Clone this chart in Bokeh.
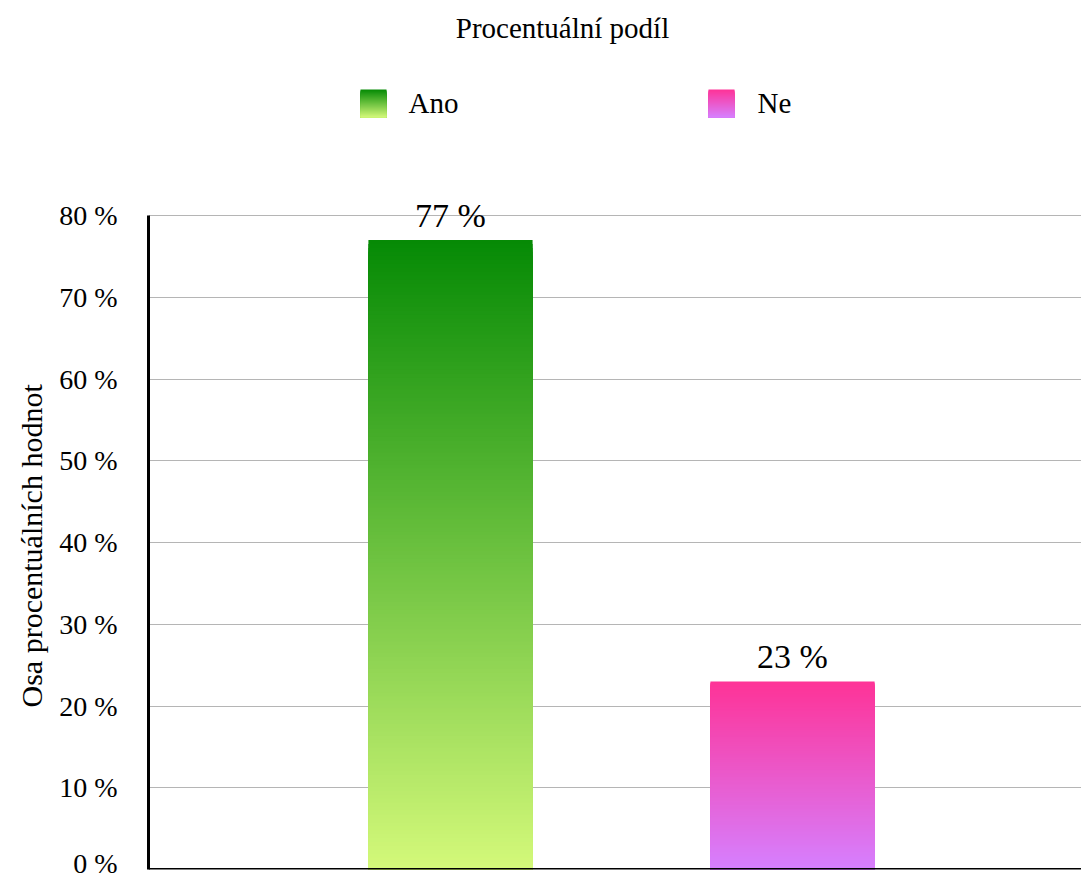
import numpy as np
from bokeh.plotting import figure
from bokeh.models import Range1d, FixedTicker, Span, ColumnDataSource, LabelSet, Title
from bokeh.embed import file_html
from bokeh.resources import INLINE
from bokeh.core.properties import value

# ---------------- data ----------------
title_text = "Procentuální podíl"
y_axis_title = "Osa procentuálních hodnot"
categories = ["Ano", "Ne"]
values = [77, 23]
value_labels = ["77 %", "23 %"]
top_colors = ["#058a05", "#fe3397"]
bottom_colors = ["#d4f97a", "#d680ff"]
tick_values = [0, 10, 20, 30, 40, 50, 60, 70, 80]
tick_labels = ["0 %", "10 %", "20 %", "30 %", "40 %", "50 %", "60 %", "70 %", "80 %"]

FONT = "Liberation Serif"
W, H = 1081, 878


def hex2rgb(h):
    h = h.lstrip("#")
    return tuple(int(h[i:i + 2], 16) for i in (0, 2, 4))


def blend(c_bottom, c_top, t):
    a = hex2rgb(c_bottom)
    b = hex2rgb(c_top)
    r = [round(a[j] + (b[j] - a[j]) * t) for j in range(3)]
    return "#%02x%02x%02x" % tuple(r)


xpos = [i + 1 for i in range(len(categories))]
bar_w = 0.48
y_max = 80 * 869 / (869 - 215)   # head-room above the value axis for title + legend

p = figure(width=W, height=H,
           x_range=Range1d(0.117, 2.845), y_range=Range1d(0, y_max),
           x_axis_type=None,
           output_backend="svg", toolbar_location=None,
           min_border_left=148, min_border_right=0,
           min_border_top=0, min_border_bottom=9)
p.outline_line_color = None
# screen-like ranges for the header (title + legend)
p.extra_x_ranges = {"px": Range1d(148, 1081)}
p.extra_y_ranges = {"px": Range1d(869, 0)}

p.ygrid.ticker = FixedTicker(ticks=tick_values)
p.ygrid.grid_line_color = "#b5b5b5"
p.ygrid.grid_line_width = 1
p.ygrid.bounds = (0, 80)

ax = p.yaxis[0]
ax.ticker = FixedTicker(ticks=tick_values)
ax.bounds = (0, 80)
ax.major_label_overrides = {v: l for v, l in zip(tick_values, tick_labels)}
ax.axis_line_color = "black"
ax.axis_line_width = 3
ax.major_tick_out = 0
ax.major_tick_in = 0
ax.minor_tick_out = 0
ax.minor_tick_in = 0
ax.major_label_standoff = 31
ax.major_label_text_font = FONT
ax.major_label_text_font_size = "28px"
ax.major_label_text_color = "black"

# value-axis title, centred on the 0-80 % part of the axis
p.add_layout(Title(text=y_axis_title, align="left", offset=162, standoff=18,
                   text_font=FONT, text_font_size="30px",
                   text_font_style="normal", text_color="black"), "left")

# gradient bars: nested slices drawn from the tallest down, each covering the last
N = 160
sx, st, sc = [], [], []
for i, v in enumerate(values):
    edges = np.linspace(0, v, N + 1)
    for k in range(N - 1, -1, -1):
        sx.append(xpos[i])
        st.append(edges[k + 1])
        sc.append(blend(bottom_colors[i], top_colors[i], (k + 0.5) / N))
p.vbar(x=sx, width=bar_w, bottom=0, top=st, fill_color=sc, line_color=None)

p.add_layout(Span(location=0, dimension="width",
                  line_color="black", line_width=3))

lab_src = ColumnDataSource(dict(x=xpos, y=values, t=value_labels))
p.add_layout(LabelSet(x="x", y="y", text="t", source=lab_src,
                      text_align="center", text_baseline="alphabetic",
                      y_offset=13, text_font=FONT,
                      text_font_size="34px", text_color="black"))

# ---------------- header: title + legend ----------------
p.text(x=[562], y=[27], text=[title_text], text_align="center",
       text_baseline="alphabetic", text_font=value(FONT),
       text_font_size="29px", text_color="black",
       x_range_name="px", y_range_name="px")

sq_left = [360, 708]
txt_left = [408, 757]
sq_w, sq_top, sq_bot = 26, 89, 117
M = 28
lx, lt, lc = [], [], []
for i in range(len(categories)):
    e = np.linspace(sq_bot, sq_top, M + 1)
    for k in range(M - 1, -1, -1):
        lx.append(sq_left[i] + sq_w / 2)
        lt.append(e[k + 1])
        lc.append(blend(bottom_colors[i], top_colors[i], (k + 0.5) / M))
p.vbar(x=lx, width=sq_w, bottom=sq_bot, top=lt, fill_color=lc, line_color=None,
       x_range_name="px", y_range_name="px")
p.text(x=txt_left, y=[102, 102], text=categories, text_align="left",
       text_baseline="alphabetic", text_font=value(FONT),
       text_font_size="29px", text_color="black",
       x_range_name="px", y_range_name="px")

open("out.html", "w").write(file_html(p, INLINE))
